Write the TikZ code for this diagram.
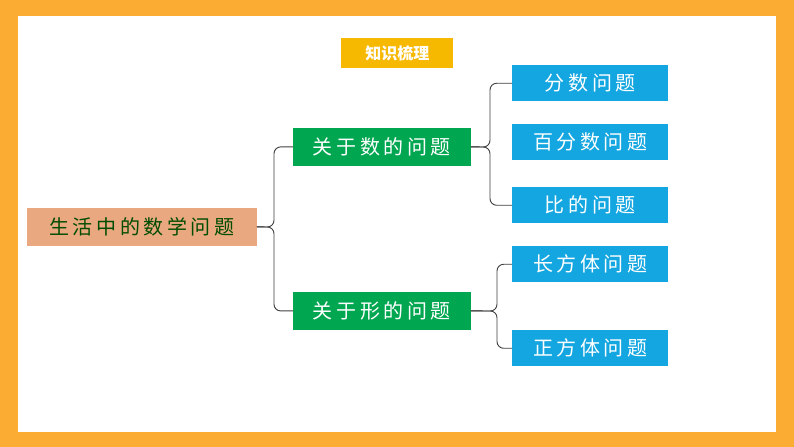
\documentclass[tikz,border=0pt]{standalone}
\usepackage{fontspec}
\setmainfont{Noto Sans CJK SC}
\definecolor{bord}{HTML}{FBAD33}
\definecolor{tit}{HTML}{F7B800}
\definecolor{mainf}{HTML}{E9A880}
\definecolor{gr}{HTML}{00A650}
\definecolor{bl}{HTML}{14A6E0}
\begin{document}
\begin{tikzpicture}[x=0.75pt,y=-0.75pt,
 box/.style={inner sep=0pt,anchor=north west,font=\fontsize{15}{15}\selectfont\addfontfeature{LetterSpace=18}},
 br/.style={draw=black!75,line width=0.7pt,rounded corners=5pt}]
\useasboundingbox (0,0) rectangle (794,447);
\fill[bord] (0,0) rectangle (794,447);
\fill[white] (18,16) rectangle (776,432);
\node[box,fill=tit,text=white,font=\bfseries\fontsize{12}{12}\selectfont,minimum width=84pt,minimum height=22pt] (t) at (341,38) {知识梳理};
\node[box,fill=mainf,text=green!30!black,minimum width=172pt,minimum height=28pt] (m) at (27,208) {生活中的数学问题};
\node[box,fill=gr,text=white,minimum width=133pt,minimum height=28pt] (g1) at (293,128) {关于数的问题};
\node[box,fill=gr,text=white,minimum width=133pt,minimum height=28pt] (g2) at (293,292) {关于形的问题};
\foreach \n/\y/\t in {b1/65/分数问题,b2/124/百分数问题,b3/187/比的问题,b4/246/长方体问题,b5/330/正方体问题}
 \node[box,fill=bl,text=white,minimum width=117pt,minimum height=27pt] (\n) at (512,\y) {\t};
\draw[br] (m.east) -- (274,227) |- (g1.west);
\draw[br] (m.east) -- (274,227) |- (g2.west);
\draw[br] (g1.east) -- (490,147) |- (b1.west);
\draw[br] (g1.east) -- (490,147) |- (b3.west);
\draw[br] (g2.east) -- (497,311) |- (b4.west);
\draw[br] (g2.east) -- (497,311) |- (b5.west);
\end{tikzpicture}
\end{document}
